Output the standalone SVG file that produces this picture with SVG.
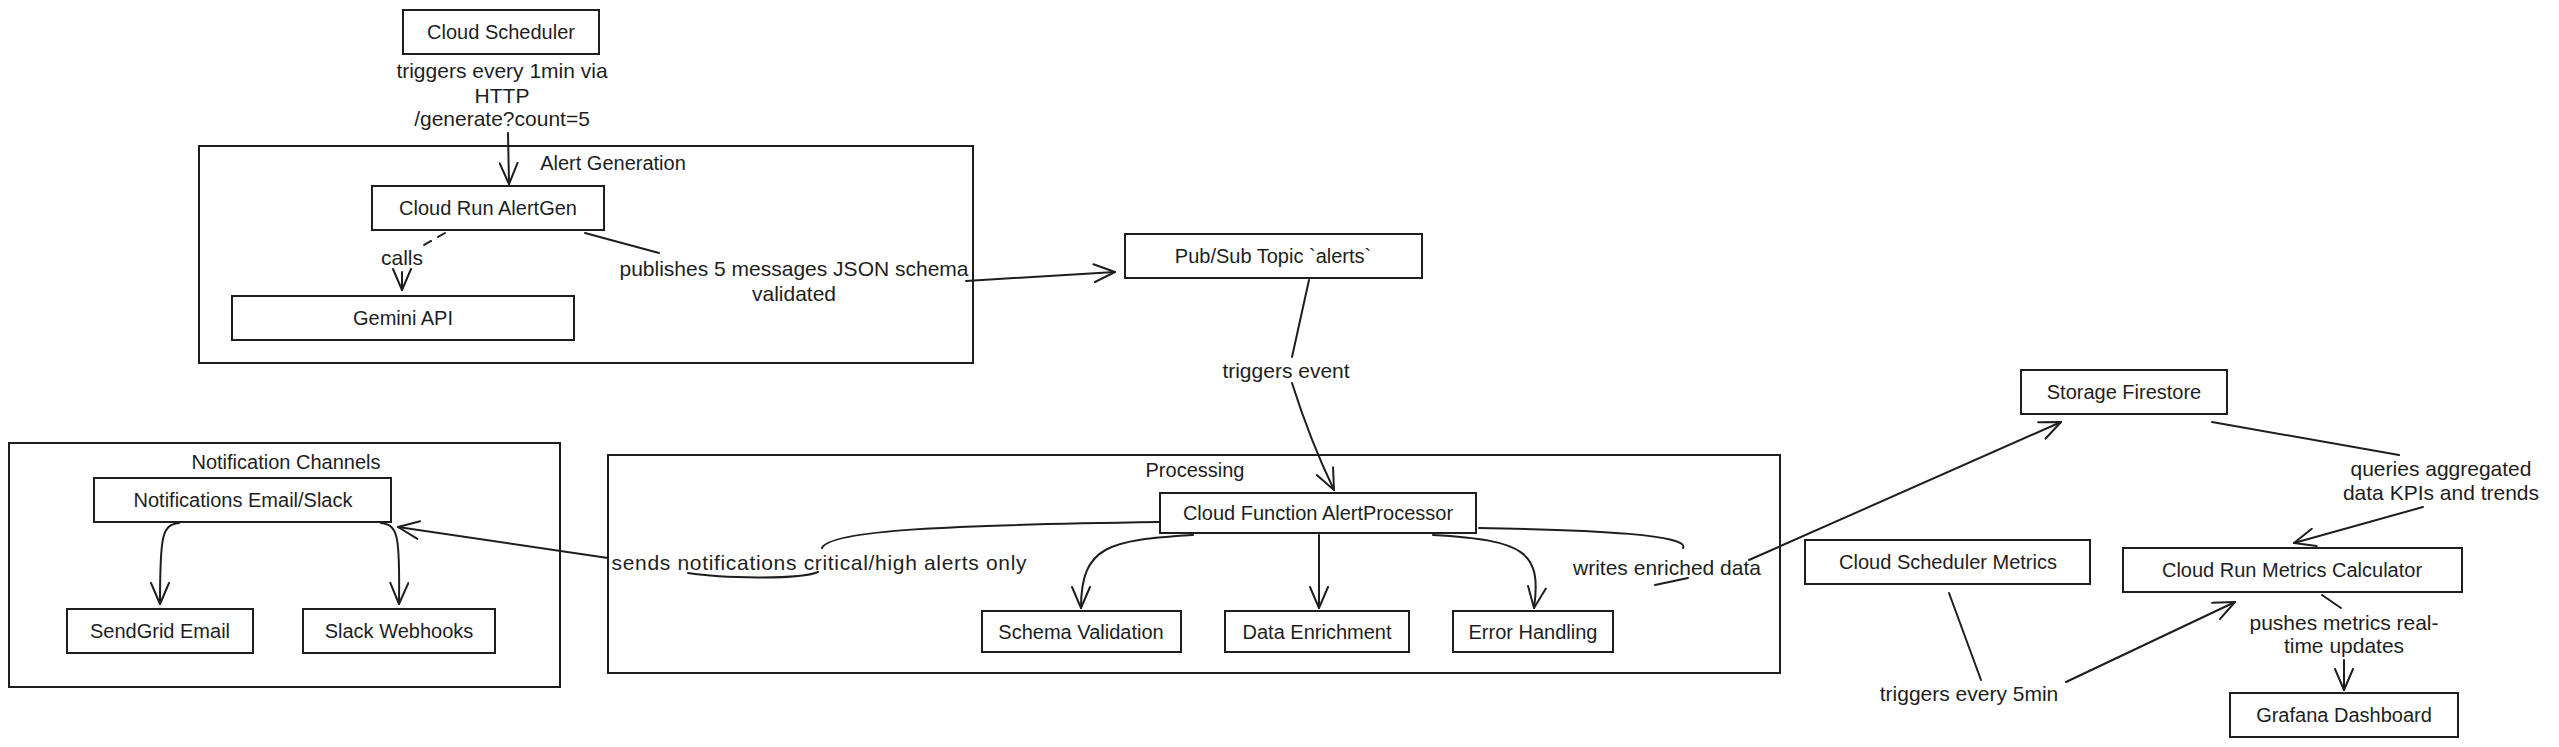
<svg xmlns="http://www.w3.org/2000/svg" width="2559" height="747" viewBox="0 0 2559 747">
<style>
.bg{fill:#ffffff}
.node rect{fill:#ffffff;stroke:#1e1e1e;stroke-width:2}
.grp rect{fill:none;stroke:#1e1e1e;stroke-width:2}
text{font-family:"Liberation Sans",Arial,sans-serif;font-size:20px;fill:#1e1e1e;text-anchor:middle;dominant-baseline:central}
.el text{font-size:21px}
.conn path{fill:none;stroke:#1e1e1e;stroke-width:2;stroke-linecap:round}
.dash{stroke-dasharray:8 8}
</style>
<defs>
<marker id="arr" viewBox="0 0 24 20" refX="22" refY="10" markerWidth="24" markerHeight="20" markerUnits="userSpaceOnUse" orient="auto">
<path d="M1,1 L22,10 L1,19" fill="none" stroke="#1e1e1e" stroke-width="2" stroke-linecap="round" stroke-linejoin="round"/>
</marker>
</defs>
<rect class="bg" x="0" y="0" width="2559" height="747"/>

<g id="group-alert-generation" class="grp">
<rect x="199" y="146" width="774" height="217"/>
<text x="613" y="163">Alert Generation</text>
</g>
<g id="group-processing" class="grp">
<rect x="608" y="455" width="1172" height="218"/>
<text x="1195" y="470">Processing</text>
</g>
<g id="group-notification-channels" class="grp">
<rect x="9" y="443" width="551" height="244"/>
<text x="286" y="462">Notification Channels</text>
</g>

<g id="connectors" class="conn">
<path d="M508,133 L509,184" marker-end="url(#arr)"/>
<path class="dash" d="M445,233 L424,245"/>
<path d="M402,272 L402,290" marker-end="url(#arr)"/>
<path d="M585,233 L659,253"/>
<path d="M966,281 L1115,272" marker-end="url(#arr)"/>
<path d="M1309,280 L1292,357"/>
<path d="M1292,383 Q1310,440 1334,490" marker-end="url(#arr)"/>
<path d="M1193,535 C1110,540 1081,545 1081,608" marker-end="url(#arr)"/>
<path d="M1319,535 L1319,608" marker-end="url(#arr)"/>
<path d="M1433,535 C1525,540 1542,552 1534,608" marker-end="url(#arr)"/>
<path d="M1159,522 C950,525 830,530 822,548"/>
<path d="M818,572 C800,580 720,578 688,573"/>
<path d="M608,558 L398,527" marker-end="url(#arr)"/>
<path d="M179,523 C162,525 160,535 160,604" marker-end="url(#arr)"/>
<path d="M381,523 C398,525 400,535 399,604" marker-end="url(#arr)"/>
<path d="M1479,528 C1600,530 1690,535 1683,548"/>
<path d="M1655,585 L1688,578"/>
<path d="M1749,560 L2061,422" marker-end="url(#arr)"/>
<path d="M2212,422 L2399,455"/>
<path d="M2423,507 L2294,543" marker-end="url(#arr)"/>
<path d="M1949,593 L1981,680"/>
<path d="M2066,682 L2235,602" marker-end="url(#arr)"/>
<path d="M2322,595 L2341,608"/>
<path d="M2344,660 L2344,690" marker-end="url(#arr)"/>
</g>

<g id="edge-labels" class="el">
<text x="502" y="70">triggers every 1min via</text>
<text x="502" y="95">HTTP</text>
<text x="502" y="118">/generate?count=5</text>
<text x="402" y="257">calls</text>
<text x="794" y="268">publishes 5 messages JSON schema</text>
<text x="794" y="293">validated</text>
<text x="1286" y="370">triggers event</text>
<text x="819" y="562" textLength="415" lengthAdjust="spacing">sends notifications critical/high alerts only</text>
<text x="1667" y="567">writes enriched data</text>
<text x="2441" y="468">queries aggregated</text>
<text x="2441" y="492">data KPIs and trends</text>
<text x="1969" y="693">triggers every 5min</text>
<text x="2344" y="622">pushes metrics real-</text>
<text x="2344" y="645">time updates</text>
</g>

<g id="cloud-scheduler" class="node"><rect x="403" y="10" width="196" height="44"/><text x="501" y="32">Cloud Scheduler</text></g>
<g id="cloud-run-alertgen" class="node"><rect x="372" y="186" width="232" height="44"/><text x="488" y="208">Cloud Run AlertGen</text></g>
<g id="gemini-api" class="node"><rect x="232" y="296" width="342" height="44"/><text x="403" y="318">Gemini API</text></g>
<g id="pubsub-topic" class="node"><rect x="1125" y="234" width="297" height="44"/><text x="1273" y="256">Pub/Sub Topic `alerts`</text></g>
<g id="cloud-function-alertprocessor" class="node"><rect x="1160" y="493" width="316" height="40"/><text x="1318" y="513">Cloud Function AlertProcessor</text></g>
<g id="schema-validation" class="node"><rect x="982" y="611" width="199" height="41"/><text x="1081" y="632">Schema Validation</text></g>
<g id="data-enrichment" class="node"><rect x="1225" y="611" width="184" height="41"/><text x="1317" y="632">Data Enrichment</text></g>
<g id="error-handling" class="node"><rect x="1453" y="611" width="160" height="41"/><text x="1533" y="632">Error Handling</text></g>
<g id="notifications-email-slack" class="node"><rect x="94" y="478" width="297" height="44"/><text x="243" y="500">Notifications Email/Slack</text></g>
<g id="sendgrid-email" class="node"><rect x="67" y="609" width="186" height="44"/><text x="160" y="631">SendGrid Email</text></g>
<g id="slack-webhooks" class="node"><rect x="303" y="609" width="192" height="44"/><text x="399" y="631">Slack Webhooks</text></g>
<g id="storage-firestore" class="node"><rect x="2021" y="370" width="206" height="44"/><text x="2124" y="392">Storage Firestore</text></g>
<g id="cloud-scheduler-metrics" class="node"><rect x="1805" y="540" width="285" height="44"/><text x="1948" y="562">Cloud Scheduler Metrics</text></g>
<g id="cloud-run-metrics-calculator" class="node"><rect x="2123" y="548" width="339" height="44"/><text x="2292" y="570">Cloud Run Metrics Calculator</text></g>
<g id="grafana-dashboard" class="node"><rect x="2230" y="693" width="228" height="44"/><text x="2344" y="715">Grafana Dashboard</text></g>
</svg>
